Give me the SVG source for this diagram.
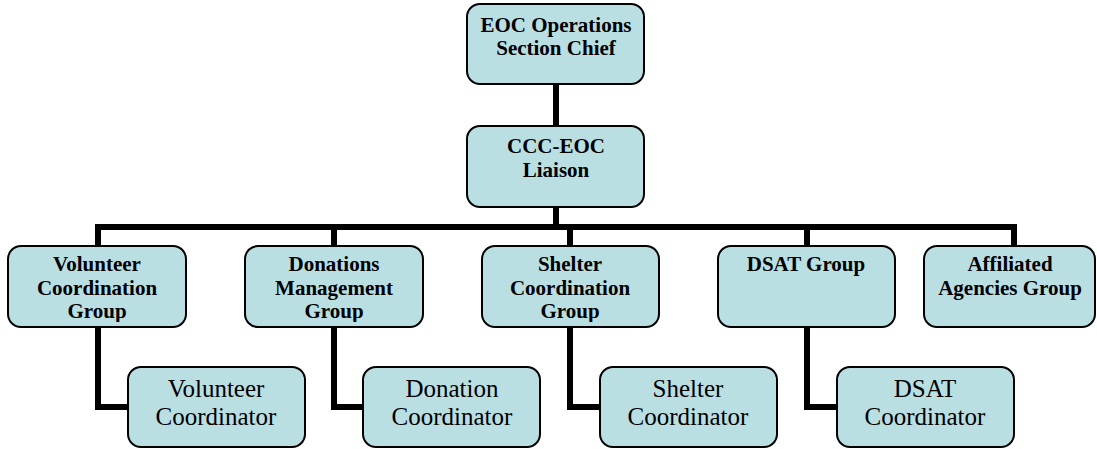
<svg xmlns="http://www.w3.org/2000/svg" width="1097" height="449" viewBox="0 0 1097 449">
<style>
.box{fill:#badfe3;stroke:#000;stroke-width:2}
.b{font-family:"Liberation Serif","Times New Roman",serif;font-weight:bold;font-size:21px;text-anchor:middle;fill:#000}
.r{font-family:"Liberation Serif","Times New Roman",serif;font-size:25px;text-anchor:middle;fill:#000}
.c{fill:none;stroke:#000;stroke-width:6;stroke-linejoin:miter;stroke-linecap:butt}
</style>
<defs>
<clipPath id="cg"><rect x="0" y="240" width="1097" height="82"/></clipPath>
</defs>
<rect width="1097" height="449" fill="#fff"/>
<g id="connectors">
<path class="c" d="M556,84 V126"/>
<path class="c" d="M556,207 V227"/>
<path class="c" d="M98,246 V227 H1014 V246"/>
<path class="c" d="M334,227 V246"/>
<path class="c" d="M570,227 V246"/>
<path class="c" d="M807,227 V246"/>
<path class="c" d="M98,327 V407 H128"/>
<path class="c" d="M334,327 V407 H363"/>
<path class="c" d="M570,327 V407 H600"/>
<path class="c" d="M807,327 V407 H837"/>
</g>
<g id="chief">
<rect class="box" x="467" y="4" width="177" height="80" rx="13"/>
<text class="b" x="556" y="32">EOC Operations</text>
<text class="b" x="556" y="55">Section Chief</text>
</g>
<g id="liaison">
<rect class="box" x="467" y="126" width="177" height="81" rx="13"/>
<text class="b" x="556" y="153">CCC-EOC</text>
<text class="b" x="556" y="177">Liaison</text>
</g>
<g id="volunteer-group">
<rect class="box" x="8" y="246" width="178" height="81" rx="13"/>
<g clip-path="url(#cg)">
<text class="b" x="97" y="271">Volunteer</text>
<text class="b" x="97" y="295">Coordination</text>
<text class="b" x="97" y="318">Group</text>
</g>
</g>
<g id="donations-group">
<rect class="box" x="245" y="246" width="178" height="81" rx="13"/>
<g clip-path="url(#cg)">
<text class="b" x="334" y="271">Donations</text>
<text class="b" x="334" y="295">Management</text>
<text class="b" x="334" y="318">Group</text>
</g>
</g>
<g id="shelter-group">
<rect class="box" x="482" y="246" width="177" height="81" rx="13"/>
<g clip-path="url(#cg)">
<text class="b" x="570" y="271">Shelter</text>
<text class="b" x="570" y="295">Coordination</text>
<text class="b" x="570" y="318">Group</text>
</g>
</g>
<g id="dsat-group">
<rect class="box" x="718" y="246" width="177" height="81" rx="13"/>
<text class="b" x="806" y="271">DSAT Group</text>
</g>
<g id="affiliated-group">
<rect class="box" x="924" y="246" width="171" height="81" rx="13"/>
<text class="b" x="1010" y="271">Affiliated</text>
<text class="b" x="1010" y="295">Agencies Group</text>
</g>
<g id="volunteer-coordinator">
<rect class="box" x="128" y="367" width="177" height="80" rx="13"/>
<text class="r" x="216" y="397">Volunteer</text>
<text class="r" x="216" y="425">Coordinator</text>
</g>
<g id="donation-coordinator">
<rect class="box" x="363" y="367" width="177" height="80" rx="13"/>
<text class="r" x="452" y="397">Donation</text>
<text class="r" x="452" y="425">Coordinator</text>
</g>
<g id="shelter-coordinator">
<rect class="box" x="600" y="367" width="177" height="80" rx="13"/>
<text class="r" x="688" y="397">Shelter</text>
<text class="r" x="688" y="425">Coordinator</text>
</g>
<g id="dsat-coordinator">
<rect class="box" x="837" y="367" width="177" height="80" rx="13"/>
<text class="r" x="925" y="397">DSAT</text>
<text class="r" x="925" y="425">Coordinator</text>
</g>
</svg>
